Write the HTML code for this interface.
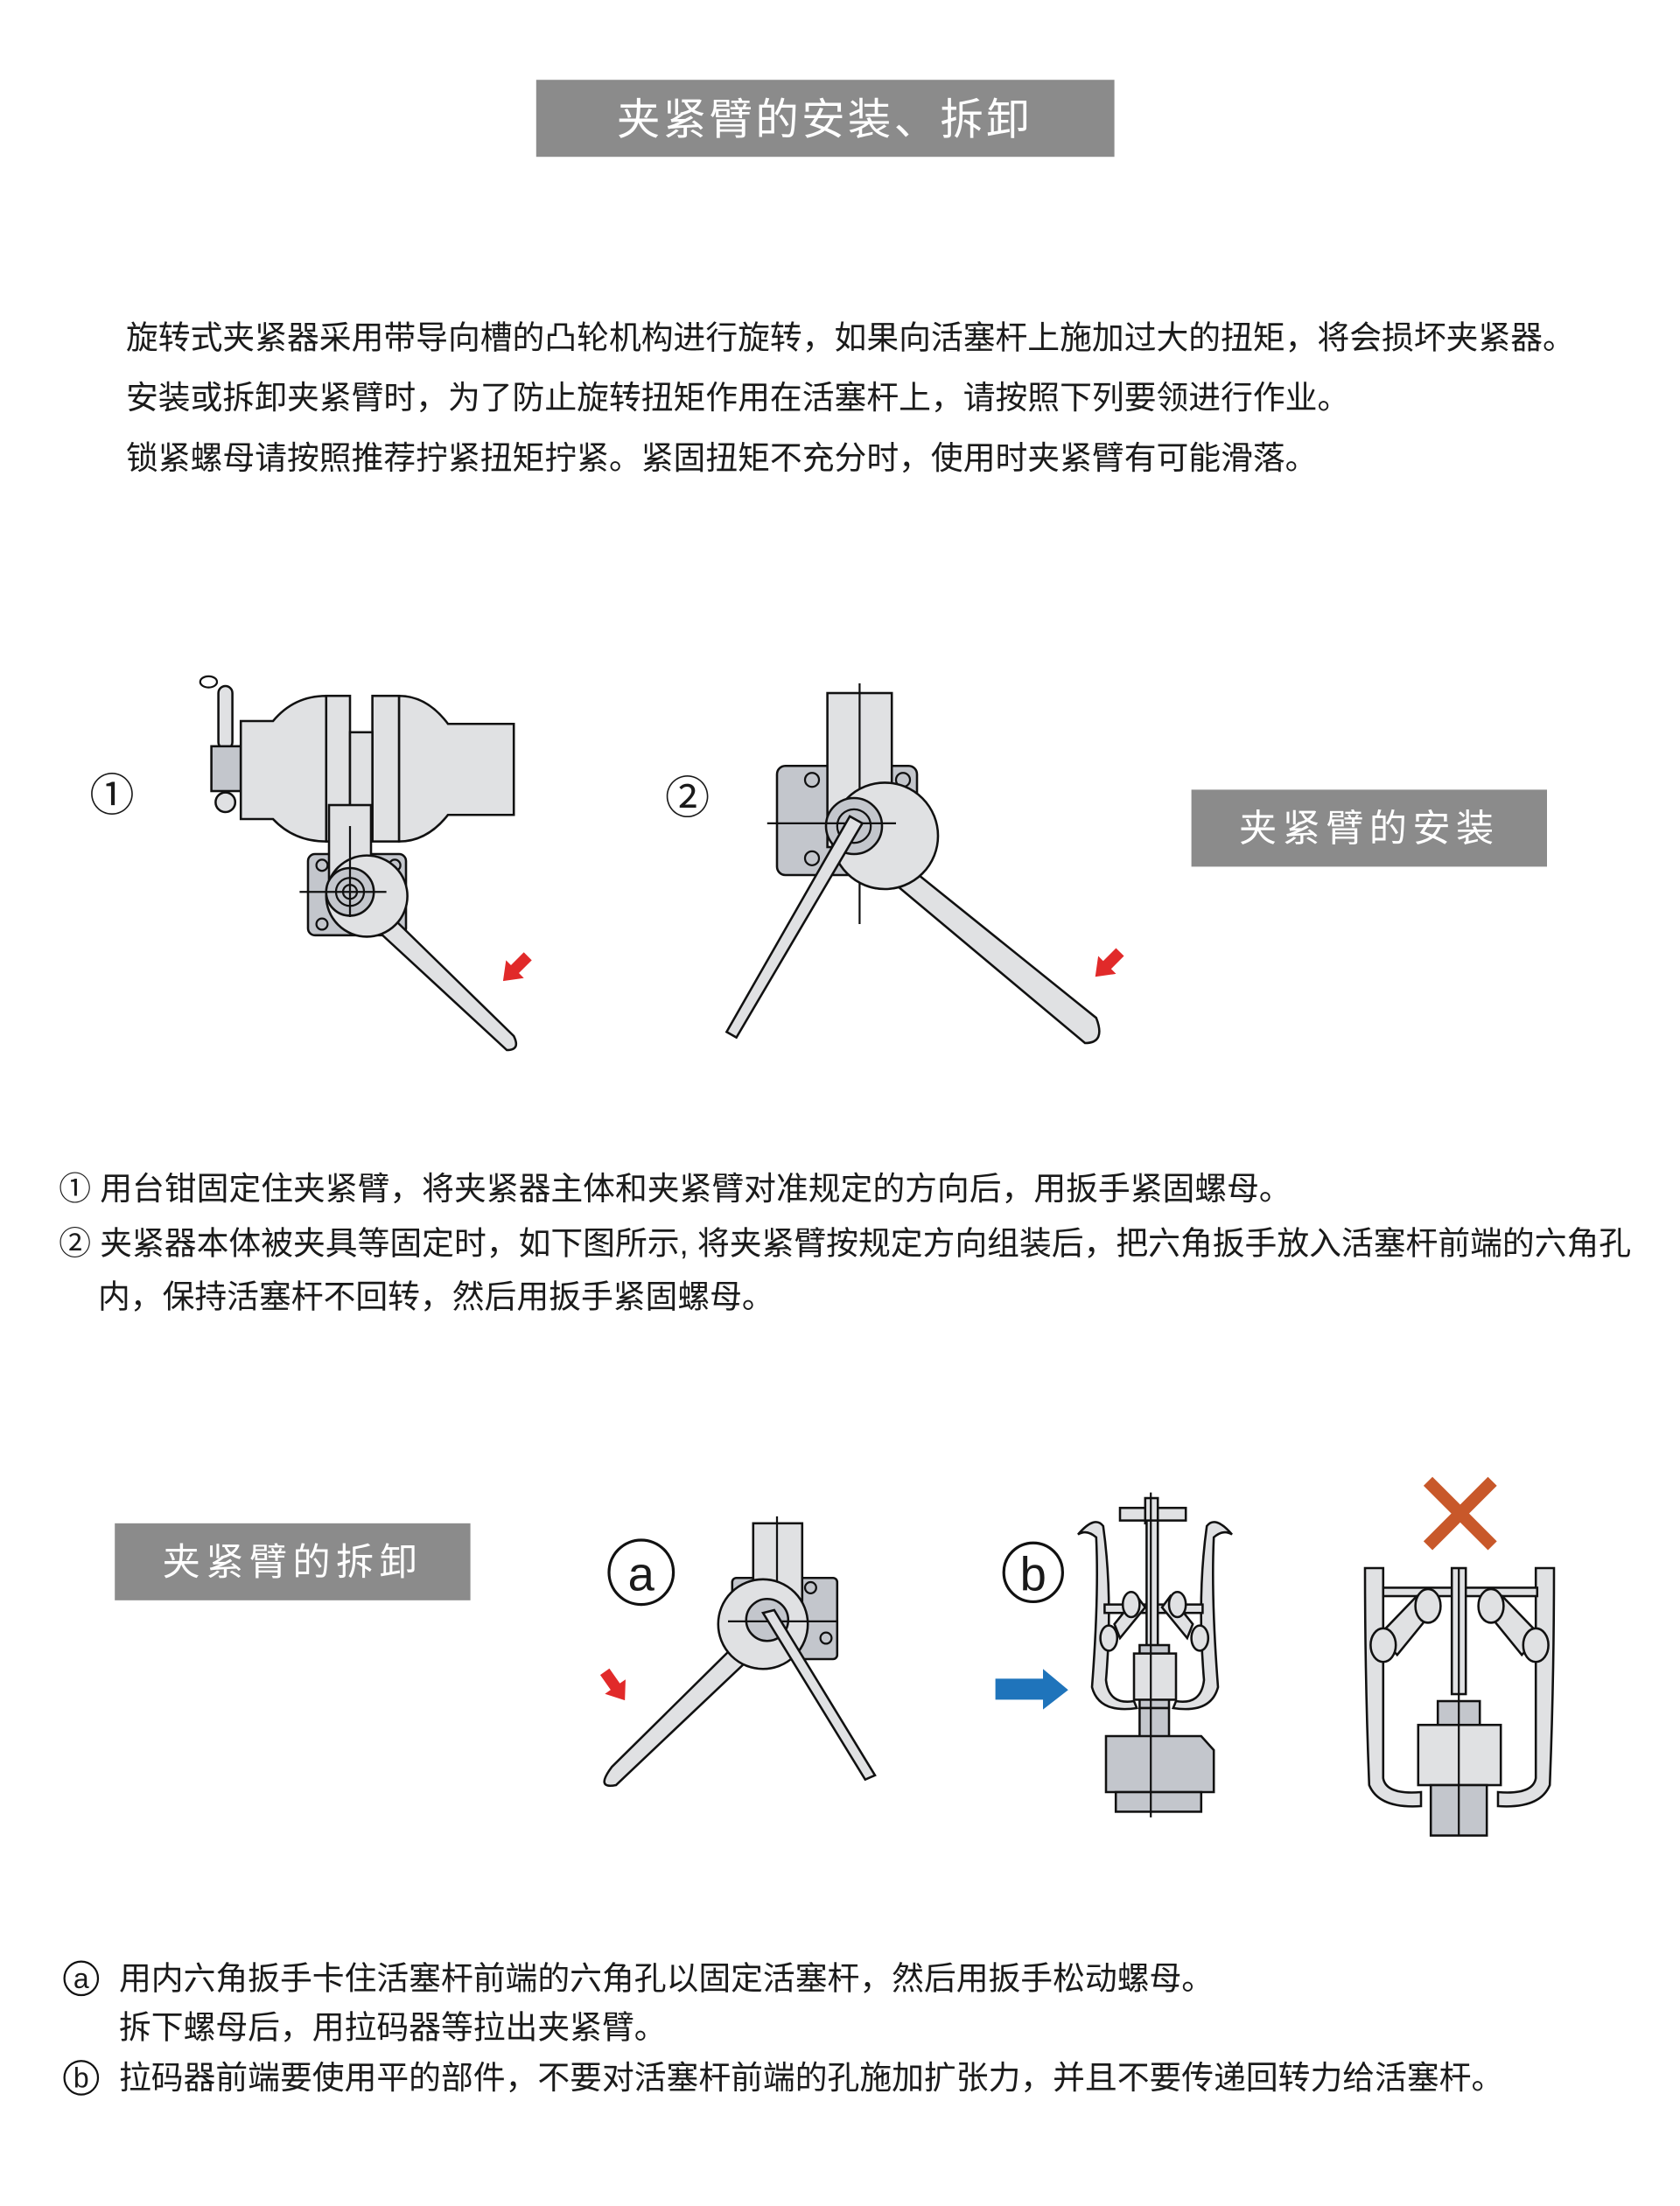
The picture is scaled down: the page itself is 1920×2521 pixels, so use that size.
<!DOCTYPE html>
<html><head><meta charset="utf-8"><style>
html,body{margin:0;padding:0;background:#fff}
svg{display:block}
text{font-family:"Liberation Sans","Noto Sans CJK SC",sans-serif;fill:#1a1a1a}
.g{fill:#e0e1e3;stroke:#111;stroke-width:1.6}
.d{fill:#c3c6cc;stroke:#111;stroke-width:1.6}
.l{stroke:#111;stroke-width:1.4;fill:none}
</style></head><body>
<svg width="1920" height="2521" viewBox="0 0 1200 1575.6" xmlns="http://www.w3.org/2000/svg">
<defs><path id="arr" d="M0 -4 H13 V-9 L25 0 L13 9 V4 H0 Z" fill="#e12a2a"/></defs>
<!-- title -->
<rect x="383" y="57" width="413" height="55" fill="#8b8b8b"/>
<text x="589" y="96" font-size="31" text-anchor="middle" style="fill:#fff" letter-spacing="2">夹紧臂的安装、拆卸</text>
<g font-size="23">
<text x="90" y="249">旋转式夹紧器采用带导向槽的凸轮机构进行旋转，如果向活塞杆上施加过大的扭矩，将会损坏夹紧器。</text>
<text x="90" y="292">安装或拆卸夹紧臂时，为了防止旋转扭矩作用在活塞杆上，请按照下列要领进行作业。</text>
<text x="90" y="335">锁紧螺母请按照推荐拧紧扭矩拧紧。紧固扭矩不充分时，使用时夹紧臂有可能滑落。</text>
</g>

<!-- fig 1 -->
<text x="64" y="579" font-size="32">①</text>
<ellipse cx="149" cy="487" rx="6" ry="4" class="l"/>
<rect x="156" y="490" width="10" height="45" rx="5" class="g"/>
<rect x="151" y="533" width="21" height="32" class="d"/>
<circle cx="161" cy="573" r="7" class="g"/>
<path d="M172 515 H195 Q210 497 233 497 V601 Q210 601 195 585 H172 Z" class="g"/>
<path d="M285 497 Q305 497 320 517 H367 V582 H320 Q305 601 285 601 Z" class="g"/>
<rect x="233" y="497" width="17" height="104" class="g"/>
<rect x="266" y="497" width="19" height="104" class="g"/>
<rect x="250" y="523" width="16" height="77" class="g"/>
<rect x="220" y="610" width="70" height="58" rx="5" class="d"/>
<circle cx="230" cy="618" r="4" class="l"/><circle cx="230" cy="660" r="4" class="l"/><circle cx="282" cy="618" r="4" class="l"/>
<rect x="235" y="575" width="30" height="60" class="g"/>
<path d="M280 655 L367 740 Q372 750 362 750 L270 665 Z" class="g"/>
<circle cx="262" cy="640" r="29" class="g"/>
<circle cx="250" cy="637" r="17" class="d"/><circle cx="250" cy="637" r="10" class="l"/><circle cx="250" cy="637" r="5" class="l"/>
<line x1="250" y1="590" x2="250" y2="655" class="l"/><line x1="214" y1="637" x2="276" y2="637" class="l"/>
<use href="#arr" transform="translate(377,683) rotate(135)"/>

<!-- fig 2 -->
<text x="475" y="581" font-size="32">②</text>
<rect x="555" y="547" width="100" height="78" rx="6" class="d"/>
<circle cx="580" cy="557" r="5" class="l"/><circle cx="580" cy="613" r="5" class="l"/><circle cx="645" cy="557" r="5" class="l"/>
<rect x="591" y="495" width="46" height="110" class="g"/>
<line x1="614" y1="488" x2="614" y2="660" class="l"/>
<path d="M650 620 L783 727 Q790 745 775 745 L640 632 Z" class="g"/>
<circle cx="632" cy="597" r="38" class="g"/>
<circle cx="610" cy="590" r="20" class="d"/><circle cx="610" cy="590" r="12" class="l"/>
<line x1="548" y1="588" x2="640" y2="588" class="l"/>
<path d="M607 583 L616 588 L526 741 L519 737 Z" class="g"/>
<use href="#arr" transform="translate(800,680) rotate(135)"/>

<rect x="851" y="564" width="254" height="55" fill="#8b8b8b"/>
<text x="978" y="601" font-size="27" text-anchor="middle" style="fill:#fff" letter-spacing="4">夹紧臂的安装</text>

<g font-size="23">
<text x="42" y="857">① 用台钳固定住夹紧臂，将夹紧器主体和夹紧臂对准规定的方向后，用扳手紧固螺母。</text>
<text x="42" y="896">② 夹紧器本体被夹具等固定时，如下图所示, 将夹紧臂按规定方向组装后，把六角扳手放入活塞杆前端的六角孔</text>
<text x="70" y="934">内，保持活塞杆不回转，然后用扳手紧固螺母。</text>
</g>

<rect x="82" y="1088" width="254" height="55" fill="#8b8b8b"/>
<text x="209" y="1125" font-size="27" text-anchor="middle" style="fill:#fff" letter-spacing="4">夹紧臂的拆卸</text>

<!-- fig a -->
<circle cx="458" cy="1123" r="23" fill="none" stroke="#111" stroke-width="2"/>
<text x="458" y="1136" font-size="34" text-anchor="middle">a</text>
<rect x="523" y="1127" width="75" height="58" rx="3" class="d"/>
<circle cx="579" cy="1134" r="4" class="l"/><circle cx="590" cy="1170" r="4" class="l"/>
<rect x="538" y="1088" width="35" height="65" class="g"/>
<line x1="555" y1="1083" x2="555" y2="1160" class="l"/>
<path d="M525 1175 L437 1262 Q425 1278 440 1275 L535 1185 Z" class="g"/>
<circle cx="545" cy="1160" r="32" class="g"/>
<circle cx="548" cy="1157" r="15" class="d"/>
<line x1="520" y1="1158" x2="598" y2="1158" class="l"/>
<path d="M545 1152 L553 1150 L625 1268 L618 1271 Z" class="g"/>
<use href="#arr" transform="translate(432,1194) rotate(55)"/>

<!-- fig b -->
<circle cx="738" cy="1123" r="21" fill="none" stroke="#111" stroke-width="2"/>
<text x="738" y="1136" font-size="34" text-anchor="middle">b</text>
<path d="M711 1199 H745 V1192 L763 1207 L745 1221 V1214 H711 Z" fill="#1f74bb"/>
<rect x="800" y="1077" width="47" height="9" class="g"/>
<rect x="818" y="1070" width="9" height="18" class="g"/>
<path d="M770 1096 Q782 1082 788 1090 Q795 1140 790 1200 Q792 1218 810 1215 L812 1220 Q785 1224 780 1205 Q785 1140 783 1098 Q776 1092 770 1096 Z" class="g"/>
<path d="M880 1096 Q868 1082 862 1090 Q855 1140 860 1200 Q858 1218 840 1215 L838 1220 Q865 1224 870 1205 Q865 1140 867 1098 Q874 1092 880 1096 Z" class="g"/>
<rect x="789" y="1146" width="70" height="6" class="g"/>
<path d="M796 1160 L812 1140 L818 1148 L800 1170 Z" class="g"/>
<path d="M852 1160 L836 1140 L830 1148 L848 1170 Z" class="g"/>
<ellipse cx="808" cy="1146" rx="6" ry="9" class="g"/><ellipse cx="841" cy="1146" rx="6" ry="9" class="g"/>
<ellipse cx="792" cy="1170" rx="6" ry="9" class="g"/><ellipse cx="857" cy="1170" rx="6" ry="9" class="g"/>
<rect x="819" y="1086" width="8" height="90" class="g"/>
<rect x="814" y="1175" width="21" height="45" class="d"/>
<rect x="810" y="1181" width="30" height="33" class="g"/>
<rect x="814" y="1220" width="21" height="22" class="d"/>
<path d="M790 1240 H858 L867 1250 V1280 H790 Z" class="d"/>
<rect x="797" y="1280" width="61" height="14" class="d"/>
<line x1="822" y1="1066" x2="822" y2="1298" class="l"/>

<!-- fig X -->
<path d="M1020 1058 L1066 1104 M1066 1058 L1020 1104" stroke="#c8582a" stroke-width="9"/>
<path d="M975 1120 H988 V1270 Q990 1282 1015 1280 V1290 Q985 1292 978 1275 Q975 1200 975 1120 Z" class="g"/>
<path d="M1110 1120 H1097 V1270 Q1095 1282 1070 1280 V1290 Q1100 1292 1107 1275 Q1110 1200 1110 1120 Z" class="g"/>
<rect x="988" y="1134" width="110" height="6" class="g"/>
<path d="M985 1168 L1012 1140 L1024 1150 L998 1182 Z" class="g"/>
<path d="M1100 1168 L1073 1140 L1061 1150 L1087 1182 Z" class="g"/>
<ellipse cx="1020" cy="1147" rx="9" ry="12" class="g"/><ellipse cx="1065" cy="1147" rx="9" ry="12" class="g"/>
<ellipse cx="988" cy="1175" rx="9" ry="12" class="g"/><ellipse cx="1097" cy="1175" rx="9" ry="12" class="g"/>
<rect x="1037" y="1120" width="10" height="90" class="g"/>
<rect x="1027" y="1215" width="30" height="20" class="d"/>
<rect x="1013" y="1232" width="59" height="43" class="g"/>
<rect x="1022" y="1275" width="40" height="36" class="d"/>
<line x1="1042" y1="1120" x2="1042" y2="1311" class="l"/>

<g font-size="23">
<circle cx="58" cy="1413" r="12" fill="none" stroke="#111" stroke-width="1.4"/>
<text x="58" y="1420" font-size="20" text-anchor="middle">a</text>
<text x="85" y="1421">用内六角扳手卡住活塞杆前端的六角孔以固定活塞杆，然后用扳手松动螺母。</text>
<text x="85" y="1456">拆下螺母后，用拉码器等拉出夹紧臂。</text>
<circle cx="58" cy="1484" r="12" fill="none" stroke="#111" stroke-width="1.4"/>
<text x="58" y="1491" font-size="20" text-anchor="middle">b</text>
<text x="85" y="1492">拉码器前端要使用平的部件，不要对活塞杆前端的孔施加扩张力，并且不要传递回转力给活塞杆。</text>
</g>
</svg>
</body></html>
